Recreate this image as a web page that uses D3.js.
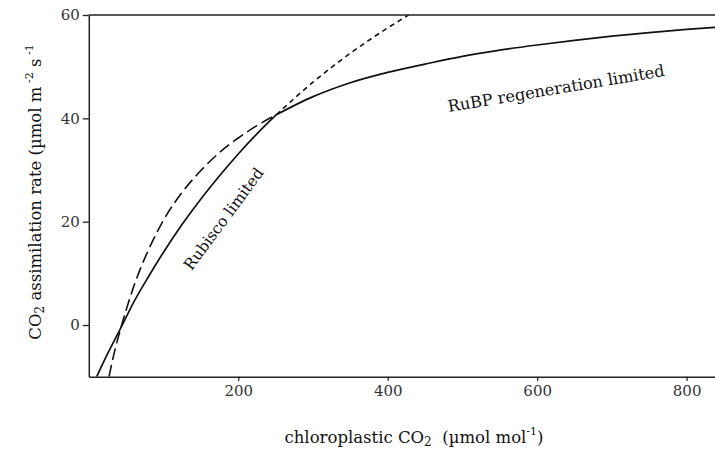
<!DOCTYPE html>
<html>
<head>
<meta charset="utf-8">
<script src="https://cdn.jsdelivr.net/npm/d3@7"></script>
<style>
  html, body { margin: 0; padding: 0; background: #fff; }
  svg { display: block; }
  text { font-family: "DejaVu Serif", "Liberation Serif", serif; }
</style>
</head>
<body>
<svg id="chart" width="715" height="456"></svg>
<script>
// ---- data ----
// solid curve: actual assimilation, Rubisco-limited part then RuBP-limited part
const solidLowC = [10.6, 25, 43, 60, 80, 100, 125, 150, 175, 200, 225, 251];
const solidLowA = [-10, -5.6, -0.5, 4.4, 9.4, 14.1, 19.5, 24.4, 28.9, 33.1, 37.0, 40.7];
const solidHighC = [251, 300, 350, 400, 450, 500, 550, 600, 650, 700, 750, 800, 838];
const solidHighA = [40.7, 44.2, 46.9, 48.9, 50.5, 52.0, 53.2, 54.2, 55.1, 55.9, 56.6, 57.2, 57.6];
// short-dashed: Rubisco-limited rate continued above the transition
const rubiscoC = [251, 300, 350, 400, 428];
const rubiscoA = [40.7, 47.0, 52.6, 57.5, 60.0];
// long-dashed: RuBP-regeneration-limited rate continued below the transition
const rubpC = [27, 35, 44, 60, 80, 100, 125, 150, 175, 200, 225, 251];
const rubpA = [-10, -4.8, 0, 7.4, 14.6, 20.3, 25.7, 29.9, 33.4, 36.2, 38.6, 40.7];
// tick labels
const xTicks = [200, 400, 600, 800];
const yTicks = [0, 20, 40, 60];

const svg = d3.select("#chart");
const mLeft = 88.8, mRight = 715, mTop = 15, mBottom = 376.7;

const x = d3.scaleLinear().domain([0, 838]).range([mLeft, mRight]);
const y = d3.scaleLinear().domain([-10, 60]).range([mBottom, mTop]);

svg.append("defs").append("clipPath").attr("id", "clip")
  .append("rect").attr("x", mLeft).attr("y", mTop).attr("width", mRight - mLeft).attr("height", mBottom - mTop);

const line = d3.line().x(d => x(d[0])).y(d => y(d[1])).curve(d3.curveMonotoneX);
const zip = (a, b) => a.map((v, i) => [v, b[i]]);

const g = svg.append("g").attr("clip-path", "url(#clip)");
g.append("path").datum(zip(rubpC, rubpA)).attr("d", line)
  .attr("fill", "none").attr("stroke", "#111").attr("stroke-width", 1.6).attr("stroke-dasharray", "12,5");
g.append("path").datum(zip(rubiscoC, rubiscoA)).attr("d", line)
  .attr("fill", "none").attr("stroke", "#111").attr("stroke-width", 1.6).attr("stroke-dasharray", "5,4");
[zip(solidLowC, solidLowA), zip(solidHighC, solidHighA)].forEach(seg => {
  g.append("path").datum(seg).attr("d", line)
    .attr("fill", "none").attr("stroke", "#111").attr("stroke-width", 1.7).attr("stroke-linejoin", "round");
});

// axes
const xAxis = svg.append("g").attr("transform", `translate(0,${mBottom})`)
  .call(d3.axisBottom(x).tickValues(xTicks).tickSize(4).tickPadding(5).tickSizeOuter(0));
const yAxis = svg.append("g").attr("transform", `translate(${mLeft},0)`)
  .call(d3.axisLeft(y).tickValues(yTicks).tickSize(6).tickPadding(3).tickSizeOuter(0));
[xAxis, yAxis].forEach(a => {
  a.select(".domain").attr("stroke", "#222").attr("stroke-width", 1.5);
  a.selectAll(".tick line").attr("stroke", "#222").attr("stroke-width", 1.3);
  a.selectAll(".tick text").attr("font-family", "Liberation Serif, serif").attr("font-size", 15).attr("fill", "#333");
});
// top frame line
svg.append("line").attr("x1", mLeft).attr("x2", mRight).attr("y1", mTop).attr("y2", mTop)
  .attr("stroke", "#222").attr("stroke-width", 1.5);

// axis titles
const xt = svg.append("text").attr("x", 414).attr("y", 443).attr("text-anchor", "middle")
  .attr("font-size", 16.5).attr("fill", "#111");
xt.append("tspan").text("chloroplastic CO");
xt.append("tspan").attr("font-size", 12).attr("dy", 3).text("2");
xt.append("tspan").attr("dy", -3).text("\u00a0 (\u00b5mol mol");
xt.append("tspan").attr("font-size", 11).attr("dy", -8).text("-1");
xt.append("tspan").attr("dy", 8).text(")");

const yt = svg.append("text").attr("transform", "translate(41,192) rotate(-90)").attr("text-anchor", "middle")
  .attr("font-size", 16.5).attr("fill", "#111");
yt.append("tspan").text("CO");
yt.append("tspan").attr("font-size", 12).attr("dy", 3).text("2");
yt.append("tspan").attr("dy", -3).text(" assimilation rate (\u00b5mol m");
yt.append("tspan").attr("font-size", 11).attr("dy", -8).text(" -2");
yt.append("tspan").attr("dy", 8).text(" s");
yt.append("tspan").attr("font-size", 11).attr("dy", -8).text(" -1");

// curve labels
svg.append("text").attr("transform", "translate(228,222) rotate(-53.5)").attr("text-anchor", "middle")
  .attr("font-size", 15.5).attr("fill", "#111").text("Rubisco limited");
svg.append("text").attr("transform", "translate(557,94) rotate(-9.5)").attr("text-anchor", "middle")
  .attr("font-size", 16.2).attr("fill", "#111").text("RuBP regeneration limited");
</script>
</body>
</html>
